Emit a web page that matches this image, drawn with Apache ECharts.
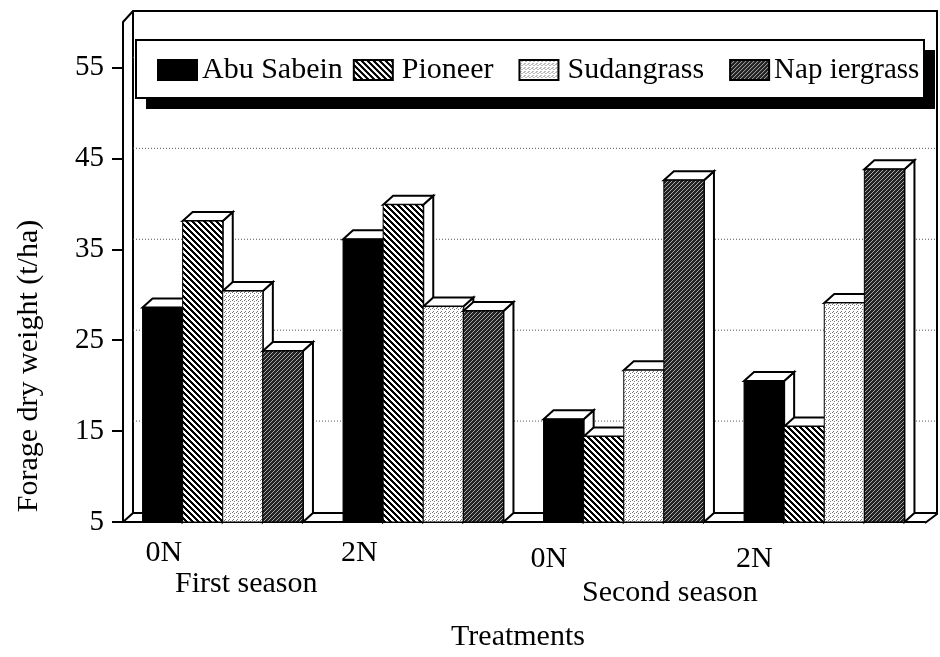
<!DOCTYPE html>
<html>
<head>
<meta charset="utf-8">
<title>Forage dry weight</title>
<script src="https://cdn.jsdelivr.net/npm/echarts@6/dist/echarts.min.js"></script>
<style>
  html, body { margin: 0; padding: 0; background: #fff; }
  #main { width: 940px; height: 657px; }
</style>
</head>
<body>
<div id="main"></div>
<script>
var categories = ['0N', '2N', '0N', '2N']
var tickLabels = [5, 15, 25, 35, 45, 55]
var seriesNames = ['Abu Sabein', 'Pioneer', 'Sudangrass', 'Nap iergrass']
var abuSabein = [28.6, 36.1, 16.3, 20.5]
var pioneer = [38.1, 39.9, 14.4, 15.5]
var sudangrass = [30.4, 28.7, 21.7, 29.1]
var napiergrass = [23.8, 28.2, 42.6, 43.8]

var serif = '"Liberation Serif", "Times New Roman", serif'
var fontSize = 30
var depthX = 10
var depthY = 9

// pixel tiles for the hatch fills
function tile (size, back, fore, test) {
  var c = document.createElement('canvas')
  c.width = size
  c.height = size
  var ctx = c.getContext('2d')
  ctx.fillStyle = back
  ctx.fillRect(0, 0, size, size)
  ctx.fillStyle = fore
  for (var x = 0; x < size; x++) {
    for (var y = 0; y < size; y++) {
      if (test(x, y)) ctx.fillRect(x, y, 1, 1)
    }
  }
  return { image: c, repeat: 'repeat' }
}
var fills = [
  '#000',
  tile(6, '#fff', '#000', function (x, y) { return (x - y + 6) % 6 < 3 }),
  tile(4, '#fff', '#777', function (x, y) { return (x === 0 && y === 0) || (x === 2 && y === 1) || (x === 1 && y === 3) }),
  tile(4, '#222', '#aaa', function (x, y) { return (x + y) % 4 === 0 })
]

function renderFrame (params, api) {
  var bottom = api.coord([0, 5])[1]
  var top = api.coord([0, 60])[1]
  var left = params.coordSys.x
  var right = left + params.coordSys.width
  var backRight = right + 12
  var line = { stroke: '#000', lineWidth: 2, fill: null }
  var children = [
    { type: 'polyline', shape: { points: [[left, top], [left + depthX, top - 11], [backRight, top - 11], [backRight, bottom - 8], [right, bottom + 1]] }, style: line },
    { type: 'polyline', shape: { points: [[left + depthX, top - 11], [left + depthX, bottom - 9], [left, bottom]] }, style: line },
    { type: 'line', shape: { x1: left + depthX, y1: bottom - 9, x2: backRight, y2: bottom - 9 }, style: line }
  ]
  tickLabels.slice(1).forEach(function (v) {
    var y = api.coord([0, v])[1] - 10
    children.push({
      type: 'line',
      shape: { x1: left + depthX, y1: y, x2: backRight, y2: y },
      style: { stroke: '#555', lineWidth: 1, lineDash: [1, 2] }
    })
  })
  return { type: 'group', children: children }
}

function renderBar (params, api) {
  var band = api.size([1, 0])[0]
  var w = band * 0.2
  var idx = params.seriesIndex - 1
  var base = api.coord([api.value(0), 5])
  var head = api.coord([api.value(0), api.value(1)])
  var x0 = head[0] + (idx - 2) * w - 0.5
  var x1 = x0 + w
  var edge = { stroke: '#000', lineWidth: 2, fill: '#fff', lineJoin: 'miter' }
  return {
    type: 'group',
    children: [
      { type: 'polygon', shape: { points: [[x1, head[1]], [x1 + depthX, head[1] - depthY], [x1 + depthX, base[1] - depthY], [x1, base[1]]] }, style: edge },
      { type: 'polygon', shape: { points: [[x0, head[1]], [x0 + depthX, head[1] - depthY], [x1 + depthX, head[1] - depthY], [x1, head[1]]] }, style: edge },
      { type: 'rect', shape: { x: x0, y: head[1], width: w, height: base[1] - head[1] }, style: { fill: fills[idx], stroke: '#000', lineWidth: 1 } }
    ]
  }
}

function barSeries (i, values) {
  return {
    name: seriesNames[i],
    type: 'custom',
    renderItem: renderBar,
    encode: { x: 0, y: 1 },
    itemStyle: { color: fills[i], borderColor: '#000', borderWidth: 1 },
    z: 3,
    data: values.map(function (v, c) { return [c, v] })
  }
}

// the x labels sit left of their ticks, the second season a little lower
var labelGaps = [41, 46, 57, 52]
var labelRich = {}
labelGaps.forEach(function (g, i) {
  labelRich['g' + i] = { width: g }
  labelRich['t' + i] = { fontFamily: serif, fontSize: fontSize, color: '#000', padding: [i < 2 ? 0 : 6, 0, 0, 0] }
})

var option = {
  animation: false,
  backgroundColor: '#fff',
  textStyle: { fontFamily: serif, color: '#000' },
  grid: { left: 123, right: 15, top: 22, bottom: 134 },
  legend: {
    left: 157,
    top: 55,
    padding: 0,
    itemWidth: 39,
    itemHeight: 20,
    itemGap: 10,
    selectedMode: false,
    icon: 'rect',
    formatter: function (name) {
      return (name === 'Pioneer' || name === 'Sudangrass') ? name + '  ' : name
    },
    textStyle: { fontFamily: serif, fontSize: fontSize, color: '#000' },
    data: [
      { name: seriesNames[0] },
      { name: seriesNames[1], textStyle: { padding: [0, 0, 0, 4] } },
      { name: seriesNames[2], textStyle: { padding: [0, 0, 0, 4] } },
      { name: seriesNames[3], textStyle: { fontSize: 29 } }
    ]
  },
  xAxis: {
    type: 'category',
    data: categories,
    axisTick: { alignWithLabel: true, length: 11, lineStyle: { color: '#000', width: 1.5 } },
    axisLine: { lineStyle: { color: '#000', width: 2 } },
    axisLabel: {
      align: 'right',
      margin: 16,
      interval: 0,
      fontFamily: serif,
      fontSize: fontSize,
      color: '#000',
      rich: labelRich,
      formatter: function (value, index) {
        return '{t' + index + '|' + value + '}{g' + index + '|}'
      }
    },
    name: 'Treatments',
    nameLocation: 'middle',
    nameGap: 100,
    nameTextStyle: { fontFamily: serif, fontSize: fontSize, color: '#000', padding: [0, 12, 0, 0] }
  },
  yAxis: {
    type: 'value',
    min: 5,
    max: 60,
    axisTick: { show: true, length: 11, customValues: tickLabels, lineStyle: { color: '#000', width: 2 } },
    axisLine: { show: true, lineStyle: { color: '#000', width: 2 } },
    axisLabel: { margin: 19, customValues: tickLabels, fontFamily: serif, fontSize: 29, color: '#000', padding: [3, 0, 0, 0] },
    splitLine: { show: false },
    name: 'Forage dry weight (t/ha)',
    nameLocation: 'middle',
    nameGap: 79,
    nameTextStyle: { fontFamily: serif, fontSize: fontSize, color: '#000', padding: [0, 188, 0, 0] }
  },
  graphic: [
    { type: 'rect', z: 3.4, shape: { x: 146, y: 50, width: 789, height: 59 }, style: { fill: '#000' } },
    { type: 'rect', z: 3.5, shape: { x: 136, y: 40, width: 788, height: 58 }, style: { fill: '#fff', stroke: '#000', lineWidth: 2 } },
    { type: 'text', left: 175, top: 569, style: { text: 'First season', font: fontSize + 'px ' + serif, fill: '#000' } },
    { type: 'text', left: 582, top: 578, style: { text: 'Second season', font: fontSize + 'px ' + serif, fill: '#000' } }
  ],
  series: [
    { type: 'custom', renderItem: renderFrame, silent: true, z: 1, encode: { x: 0, y: 1 }, data: [[0, 5]] },
    barSeries(0, abuSabein),
    barSeries(1, pioneer),
    barSeries(2, sudangrass),
    barSeries(3, napiergrass)
  ]
}

var myChart = echarts.init(document.getElementById('main'))
myChart.setOption(option)
</script>
</body>
</html>
